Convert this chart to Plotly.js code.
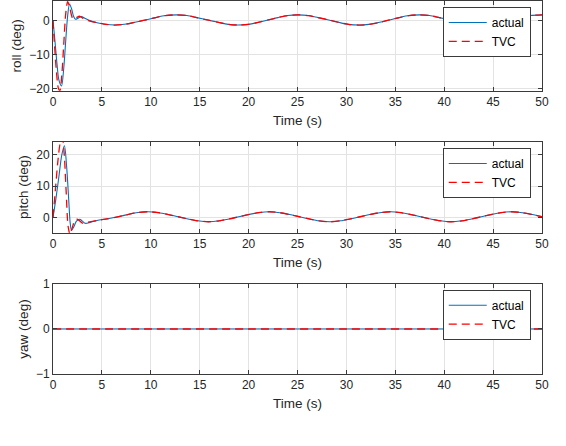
<!DOCTYPE html>
<html>
<head>
<meta charset="utf-8">
<script src="https://cdn.plot.ly/plotly-3.0.1.min.js"></script>
<style>html,body{margin:0;padding:0;background:#fff;}#chart{width:566px;height:446px;}</style>
</head>
<body>
<div id="chart"></div>
<script>
// ---- data ----
var tRollActual = [0,0.2,0.4,0.6,0.87,1.1,1.3,1.5,1.69,1.9,2.1,2.3,2.6,2.9,3.3,3.76,4.5,5.2,6.3,7.5,8.5,9.5,10.5,11.5,12.6,13.7,14.7,15.8,16.9,17.9,18.9,20.0,21.0,22.0,23.0,24.0,25.0,26.1,27.1,28.2,29.2,30.2,31.3,32.3,33.4,34.4,35.4,36.4,37.5,38.5,39.5,40.6,41.6,42.6,43.7,44.7,45.8,46.8,47.8,48.8,50];
var rollActual  = [0,-6,-12.5,-17.5,-19.3,-14,-6,1.5,4.9,3.5,1.3,0.4,0.8,1.2,0.6,0,-0.6,-1.0,-1.3,-1.0,-0.4,0.2,0.9,1.5,1.7,1.5,0.9,0.2,-0.5,-1.1,-1.3,-1.1,-0.5,0.2,0.9,1.5,1.7,1.5,0.9,0.2,-0.5,-1.1,-1.3,-1.1,-0.5,0.2,0.9,1.5,1.7,1.5,0.9,0.2,-0.5,-1.1,-1.3,-1.1,-0.5,0.2,0.9,1.5,1.7];
var tRollTvc = [0,0.15,0.35,0.55,0.7,0.9,1.1,1.3,1.5,1.7,1.9,2.06,2.4,2.7,3.1,3.6,4.5,5.2,6.3,7.5,8.5,9.5,10.5,11.5,12.6,13.7,14.7,15.8,16.9,17.9,18.9,20.0,21.0,22.0,23.0,24.0,25.0,26.1,27.1,28.2,29.2,30.2,31.3,32.3,33.4,34.4,35.4,36.4,37.5,38.5,39.5,40.6,41.6,42.6,43.7,44.7,45.8,46.8,47.8,48.8,50];
var rollTvc  = [0,-7,-15,-20,-20.7,-16,-7,2,5.6,4,1.5,0.5,0.9,1.3,0.6,0,-0.6,-1.0,-1.3,-1.0,-0.4,0.2,0.9,1.5,1.7,1.5,0.9,0.2,-0.5,-1.1,-1.3,-1.1,-0.5,0.2,0.9,1.5,1.7,1.5,0.9,0.2,-0.5,-1.1,-1.3,-1.1,-0.5,0.2,0.9,1.5,1.7,1.5,0.9,0.2,-0.5,-1.1,-1.3,-1.1,-0.5,0.2,0.9,1.5,1.7];

var tPitchActual = [0,0.3,0.6,0.9,1.17,1.4,1.6,1.75,1.89,2.1,2.4,2.74,3.0,3.3,3.8,4.5,5.5,6.5,7.5,8.5,9.7,10.8,11.8,12.8,13.8,14.8,15.9,17.0,18.0,19.0,20.0,21.0,22.1,23.2,24.2,25.2,26.2,27.2,28.3,29.4,30.4,31.4,32.4,33.4,34.5,35.6,36.6,37.6,38.6,39.6,40.7,41.8,42.8,43.8,44.8,45.8,46.9,48.0,49.0,50];
var pitchActual  = [0,6,13,20,22.9,16,6,-1.5,-4.1,-3.2,-1.2,-0.6,-1.2,-1.9,-1.6,-1.0,-0.5,0.1,0.8,1.5,1.8,1.5,0.9,0.2,-0.5,-1.1,-1.4,-1.1,-0.5,0.2,0.9,1.5,1.8,1.5,0.9,0.2,-0.5,-1.1,-1.4,-1.1,-0.5,0.2,0.9,1.5,1.8,1.5,0.9,0.2,-0.5,-1.1,-1.4,-1.1,-0.5,0.2,0.9,1.5,1.8,1.5,0.9,0.2];
var tPitchTvc = [0,0.25,0.5,0.75,0.95,1.15,1.35,1.55,1.75,1.95,2.2,2.45,2.75,3.0,3.5,4.5,5.5,6.5,7.5,8.5,9.7,10.8,11.8,12.8,13.8,14.8,15.9,17.0,18.0,19.0,20.0,21.0,22.1,23.2,24.2,25.2,26.2,27.2,28.3,29.4,30.4,31.4,32.4,33.4,34.5,35.6,36.6,37.6,38.6,39.6,40.7,41.8,42.8,43.8,44.8,45.8,46.9,48.0,49.0,50];
var pitchTvc  = [0,9,18,24,25.5,20,8,-3,-5.5,-3.5,-1.2,-0.6,-1.2,-1.8,-1.6,-1.0,-0.5,0.1,0.8,1.5,1.8,1.5,0.9,0.2,-0.5,-1.1,-1.4,-1.1,-0.5,0.2,0.9,1.5,1.8,1.5,0.9,0.2,-0.5,-1.1,-1.4,-1.1,-0.5,0.2,0.9,1.5,1.8,1.5,0.9,0.2,-0.5,-1.1,-1.4,-1.1,-0.5,0.2,0.9,1.5,1.8,1.5,0.9,0.2];

var tYaw = [0,10,20,30,40,50];
var yawActual = [0,0,0,0,0,0];
var yawTvc = [0,0,0,0,0,0];

var seriesNames = ['actual','TVC'];
var xTicks = [0,5,10,15,20,25,30,35,40,45,50];
var rollTicks = [-20,-10,0];
var pitchTicks = [0,10,20];
var yawTicks = [-1,0,1];
var yLabels = ['roll (deg)','pitch (deg)','yaw (deg)'];
var xLabel = 'Time (s)';

// ---- styling ----
var BLUE = '#0072BD', RED = '#FF0000';
var FONT = 'Liberation Sans, Arial, Helvetica, sans-serif';
var AX = '#3a3a3a', GRID = '#e3e3e3', TXT = '#262626';

function blue(x,y,xa,ya,lg){return {x:x,y:y,xaxis:xa,yaxis:ya,legend:lg,name:seriesNames[0],type:'scatter',mode:'lines',line:{color:BLUE,width:1.1,shape:'spline',smoothing:0.8}};}
function red(x,y,xa,ya,lg){return {x:x,y:y,xaxis:xa,yaxis:ya,legend:lg,name:seriesNames[1],type:'scatter',mode:'lines',line:{color:RED,width:1.3,dash:'8px,5px',shape:'spline',smoothing:0.8}};}

var data = [
  blue(tRollActual,rollActual,'x','y','legend'),
  red(tRollTvc,rollTvc,'x','y','legend'),
  blue(tPitchActual,pitchActual,'x2','y2','legend2'),
  red(tPitchTvc,pitchTvc,'x2','y2','legend2'),
  blue(tYaw,yawActual,'x3','y3','legend3'),
  red(tYaw,yawTvc,'x3','y3','legend3')
];

function xax(anchor){return {anchor:anchor,domain:[0,1],range:[0,50],tickvals:xTicks,ticks:'inside',ticklen:4,tickcolor:AX,showline:true,linecolor:AX,linewidth:1,mirror:'ticks',showgrid:true,gridcolor:GRID,zeroline:false,tickfont:{family:FONT,size:12,color:TXT},title:{text:xLabel,font:{family:FONT,size:13.5,color:TXT},standoff:7},automargin:false};}
function yax(anchor,dom,rng,tv,lab){return {anchor:anchor,domain:dom,range:rng,tickvals:tv,ticks:'inside',ticklen:4,tickcolor:AX,showline:true,linecolor:AX,linewidth:1,mirror:'ticks',showgrid:true,gridcolor:GRID,zeroline:false,tickfont:{family:FONT,size:12,color:TXT},title:{text:lab,font:{family:FONT,size:13.5,color:TXT},standoff:4},automargin:false};}
function leg(y){return {x:0.977,xanchor:'right',y:y,yanchor:'top',bgcolor:'#ffffff',bordercolor:AX,borderwidth:1,font:{family:FONT,size:12,color:'#000'},tracegroupgap:0,itemwidth:38};}

var layout = {
  width:566,height:446,
  margin:{l:52.5,r:24,t:1,b:72},
  paper_bgcolor:'#ffffff',plot_bgcolor:'#ffffff',
  font:{family:FONT,size:12,color:TXT},
  showlegend:true,
  xaxis:xax('y'),
  xaxis2:xax('y2'),
  xaxis3:xax('y3'),
  yaxis:yax('x',[0.7595,1],[-20.7,5.8],rollTicks,yLabels[0]),
  yaxis2:yax('x2',[0.3788,0.6228],[-4.9,24.2],pitchTicks,yLabels[1]),
  yaxis3:yax('x3',[0,0.2413],[-1,1],yawTicks,yLabels[2]),
  legend:leg(0.984),
  legend2:leg(0.606),
  legend3:leg(0.226)
};

Plotly.newPlot('chart',data,layout,{staticPlot:true,displayModeBar:false});
</script>
</body>
</html>
